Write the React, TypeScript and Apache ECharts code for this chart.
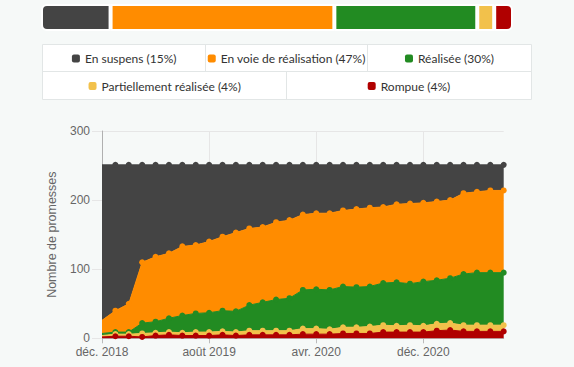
import React, { useEffect, useRef } from "react";
import * as echarts from "echarts";

const months = [
  "déc. 2018", "janv. 2019", "févr. 2019", "mars 2019", "avr. 2019", "mai 2019", "juin 2019", "juil. 2019",
  "août 2019", "sept. 2019", "oct. 2019", "nov. 2019", "déc. 2019", "janv. 2020", "févr. 2020", "mars 2020",
  "avr. 2020", "mai 2020", "juin 2020", "juil. 2020", "août 2020", "sept. 2020", "oct. 2020", "nov. 2020",
  "déc. 2020", "janv. 2021", "févr. 2021", "mars 2021", "avr. 2021", "mai 2021", "juin 2021",
];

const rompue = [2, 3, 3, 2, 4, 5, 4, 4, 4, 5, 4, 5, 5, 5, 5, 6, 6, 6, 7, 7, 7, 9, 9, 9, 9, 11, 12, 10, 10, 10, 10];
const partielle = [2, 3, 3, 5, 4, 4, 4, 5, 5, 5, 5, 6, 6, 6, 6, 8, 8, 7, 9, 9, 10, 10, 9, 10, 9, 10, 10, 9, 9, 9, 9];
const realisee = [3, 3, 3, 15, 16, 20, 25, 27, 28, 30, 30, 37, 41, 45, 47, 56, 57, 57, 59, 58, 58, 61, 63, 60, 64, 63, 65, 74, 76, 76, 76];
const enVoie = [19, 31, 41, 88, 94, 94, 100, 99, 103, 107, 114, 111, 109, 112, 113, 109, 110, 111, 110, 113, 114, 110, 113, 116, 114, 114, 113, 117, 117, 119, 119];
const suspens = [225, 211, 201, 141, 133, 128, 118, 116, 111, 104, 98, 92, 90, 83, 80, 72, 70, 70, 66, 64, 62, 61, 57, 56, 55, 53, 51, 41, 39, 37, 37];

const seriesNames = ["En suspens", "En voie de réalisation", "Réalisée", "Partiellement réalisée", "Rompue"];
const seriesData = [suspens, enVoie, realisee, partielle, rompue];
const seriesColors = ["#444444", "#ff8c00", "#228b22", "#f2c14b", "#b00000"];

const yTicks = [0, 100, 200, 300];

const LEG_FONT = "Lato";
const LEG_FS = 12;

export default function App() {
  const ref = useRef<HTMLDivElement>(null);
  useEffect(() => {
    document.body.style.margin = "0";
    if (!ref.current) return;
    const chart = echarts.init(ref.current, null, { renderer: "svg" });

    const last = seriesData.map((a) => a[a.length - 1]);
    const total = last.reduce((s, v) => s + v, 0);
    const pct = last.map((v) => Math.round((v / total) * 100));

    const ctx = document.createElement("canvas").getContext("2d")!;
    ctx.font = `${LEG_FS}px ${LEG_FONT}`;

    const cells = [
      { cx: 124.2, cy: 58.5 },
      { cx: 286.7, cy: 58.5 },
      { cx: 449.5, cy: 58.5 },
      { cx: 164.7, cy: 86 },
      { cx: 409.0, cy: 86 },
    ];

    const legends = seriesNames.map((n, k) => {
      const text = `${n} (${pct[k]}%)`;
      const w = 8 + 5 + ctx.measureText(text).width;
      return {
        data: [n],
        left: cells[k].cx - w / 2,
        top: cells[k].cy - 7,
        padding: 0,
        icon: "roundRect",
        itemWidth: 8,
        itemHeight: 8,
        selectedMode: false,
        formatter: () => text,
        textStyle: { fontFamily: LEG_FONT, fontSize: LEG_FS, color: "#333", lineHeight: 14 },
      };
    });

    // stacking order: bottom first
    const order = [4, 3, 2, 1, 0];
    const lineSeries = order.map((k, idx) => ({
      name: seriesNames[k],
      type: "line",
      stack: "total",
      xAxisIndex: 0,
      yAxisIndex: 0,
      z: 10 - idx,
      data: seriesData[k].map((v, i) => (i === 0 ? { value: v, symbolSize: 0 } : v)),
      symbol: "circle",
      symbolSize: 6,
      showSymbol: true,
      lineStyle: { width: 1, color: seriesColors[k] },
      itemStyle: { color: seriesColors[k] },
      areaStyle: { color: seriesColors[k], opacity: 1 },
      emphasis: { disabled: true },
    }));

    const barSeries = seriesNames.map((n, k) => ({
      name: n,
      type: "bar",
      stack: "bar",
      xAxisIndex: 1,
      yAxisIndex: 1,
      barWidth: 27,
      data: [last[k]],
      itemStyle: {
        color: seriesColors[k],
        borderColor: "#ffffff",
        borderWidth: 2,
        borderRadius: k === 0 ? [5, 0, 0, 5] : k === seriesNames.length - 1 ? [0, 5, 5, 0] : 0,
      },
      emphasis: { disabled: true },
    }));

    const grid = "#e6e6e6";
    const border = "#e2e6e6";

    chart.setOption({
      animation: false,
      backgroundColor: "#f6f9f8",
      tooltip: { show: false },
      legend: legends,
      graphic: [
        {
          type: "rect",
          z: 0,
          shape: { x: 42.5, y: 44.5, width: 489, height: 55 },
          style: { fill: "#ffffff", stroke: border, lineWidth: 1 },
        },
        { type: "line", z: 1, shape: { x1: 42.5, y1: 71.5, x2: 531.5, y2: 71.5 }, style: { stroke: border, lineWidth: 1 } },
        { type: "line", z: 1, shape: { x1: 205.5, y1: 44.5, x2: 205.5, y2: 71.5 }, style: { stroke: border, lineWidth: 1 } },
        { type: "line", z: 1, shape: { x1: 367.5, y1: 44.5, x2: 367.5, y2: 71.5 }, style: { stroke: border, lineWidth: 1 } },
        { type: "line", z: 1, shape: { x1: 286.5, y1: 71.5, x2: 286.5, y2: 99.5 }, style: { stroke: border, lineWidth: 1 } },
      ],
      grid: [
        { left: 102, right: 70.3, top: 131, bottom: 28.7, containLabel: false },
        { left: 41, right: 61, top: 4, height: 27, containLabel: false },
      ],
      xAxis: [
        {
          type: "category",
          gridIndex: 0,
          data: months,
          boundaryGap: false,
          axisLine: { show: true, lineStyle: { color: "#bbbbbb" } },
          axisTick: { show: true, interval: 7, length: 5, lineStyle: { color: "#bbbbbb" } },
          axisLabel: { interval: 7, color: "#666666", fontSize: 12, fontFamily: "Liberation Sans", margin: 8 },
          splitLine: { show: true, interval: 7, lineStyle: { color: grid } },
        },
        { type: "value", gridIndex: 1, min: 0, max: total, show: false },
      ],
      yAxis: [
        {
          type: "value",
          gridIndex: 0,
          min: yTicks[0],
          max: yTicks[yTicks.length - 1],
          interval: 100,
          name: "Nombre de promesses",
          nameLocation: "middle",
          nameGap: 44,
          nameTextStyle: { color: "#666666", fontSize: 12.5, fontFamily: "Liberation Sans" },
          axisLine: { show: true, lineStyle: { color: "#b0b0b0" } },
          axisTick: { show: true, length: 10, lineStyle: { color: grid } },
          axisLabel: { color: "#666666", fontSize: 12, fontFamily: "Liberation Sans", margin: 12 },
          splitLine: { show: true, lineStyle: { color: grid } },
        },
        { type: "category", gridIndex: 1, data: ["total"], show: false },
      ],
      series: [...lineSeries, ...barSeries],
    });
    return () => chart.dispose();
  }, []);
  return <div ref={ref} style={{ width: 574, height: 367 }} />;
}
